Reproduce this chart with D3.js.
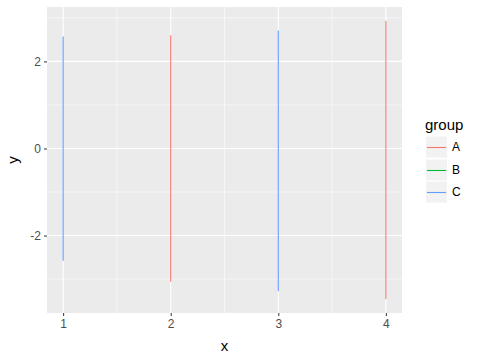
<!DOCTYPE html>
<html>
<head>
<meta charset="utf-8">
<script src="https://cdn.jsdelivr.net/npm/d3@7"></script>
<style>
  body { margin: 0; background: #fff; }
  svg text { font-family: "Liberation Sans", Arial, sans-serif; }
</style>
</head>
<body>
<div id="chart"></div>
<script>
// data
var xs = [1, 2, 3, 4];
var groups = ["C", "A", "C", "A"];
var yLow = [-2.58, -3.06, -3.28, -3.46];
var yHigh = [2.57, 2.60, 2.71, 2.93];
var legendGroups = ["A", "B", "C"];
var groupColors = ["#F8766D", "#00BA38", "#619CFF"];
var xTicks = [1, 2, 3, 4];
var yTicks = [-2, 0, 2];

var width = 477, height = 358;
var panel = {left: 47, top: 7, right: 402, bottom: 313};

var svg = d3.select('#chart').append('svg')
    .attr('width', width)
    .attr('height', height);

// ggplot style 5% expansion
var xr = d3.extent(xs), xPad = (xr[1] - xr[0]) * 0.05;
var yr = [d3.min(yLow), d3.max(yHigh)], yPad = (yr[1] - yr[0]) * 0.05;

var x = d3.scaleLinear()
    .domain([xr[0] - xPad, xr[1] + xPad])
    .range([panel.left, panel.right]);
var y = d3.scaleLinear()
    .domain([yr[0] - yPad, yr[1] + yPad])
    .range([panel.bottom, panel.top]);

function color(g) {
    return groupColors[legendGroups.indexOf(g)];
}

svg.append('rect')
    .attr('x', panel.left).attr('y', panel.top)
    .attr('width', panel.right - panel.left)
    .attr('height', panel.bottom - panel.top)
    .attr('fill', '#EBEBEB');

// minor grid
var xMinor = d3.range(0, xTicks.length - 1).map(function(i) { return (xTicks[i] + xTicks[i + 1]) / 2; });
var yMinor = [-3, -1, 1, 3];
var grid = svg.append('g');
grid.selectAll('.xminor').data(xMinor).enter().append('line')
    .attr('x1', function(d) { return x(d); }).attr('x2', function(d) { return x(d); })
    .attr('y1', panel.top).attr('y2', panel.bottom)
    .attr('stroke', '#fff').attr('stroke-width', 0.55);
grid.selectAll('.yminor').data(yMinor).enter().append('line')
    .attr('y1', function(d) { return y(d); }).attr('y2', function(d) { return y(d); })
    .attr('x1', panel.left).attr('x2', panel.right)
    .attr('stroke', '#fff').attr('stroke-width', 0.55);
grid.selectAll('.xmajor').data(xTicks).enter().append('line')
    .attr('x1', function(d) { return x(d); }).attr('x2', function(d) { return x(d); })
    .attr('y1', panel.top).attr('y2', panel.bottom)
    .attr('stroke', '#fff').attr('stroke-width', 1.1);
grid.selectAll('.ymajor').data(yTicks).enter().append('line')
    .attr('y1', function(d) { return y(d); }).attr('y2', function(d) { return y(d); })
    .attr('x1', panel.left).attr('x2', panel.right)
    .attr('stroke', '#fff').attr('stroke-width', 1.1);

// segments
svg.append('g').selectAll('line.seg').data(xs).enter().append('line')
    .attr('class', 'seg')
    .attr('x1', function(d) { return x(d); })
    .attr('x2', function(d) { return x(d); })
    .attr('y1', function(d, i) { return y(yLow[i]); })
    .attr('y2', function(d, i) { return y(yHigh[i]); })
    .attr('stroke', function(d, i) { return color(groups[i]); })
    .attr('stroke-width', 1.1);

// axes
var xAxis = svg.append('g')
    .attr('transform', 'translate(0,' + panel.bottom + ')')
    .call(d3.axisBottom(x).tickValues(xTicks).tickSize(3).tickPadding(3).tickFormat(d3.format('d')));
var yAxis = svg.append('g')
    .attr('transform', 'translate(' + panel.left + ',0)')
    .call(d3.axisLeft(y).tickValues(yTicks).tickSize(3).tickPadding(3).tickFormat(function(d) { return d < 0 ? '-' + Math.abs(d) : d; }));
[xAxis, yAxis].forEach(function(a) {
    a.select('.domain').remove();
    a.selectAll('.tick line').attr('stroke', '#333').attr('stroke-width', 1);
    a.selectAll('.tick text').attr('fill', '#4D4D4D').style('font-size', '12px');
});

svg.append('text')
    .attr('x', (panel.left + panel.right) / 2).attr('y', 351)
    .attr('text-anchor', 'middle')
    .style('font-size', '15px')
    .text('x');
svg.append('text')
    .attr('transform', 'translate(18,' + (panel.top + panel.bottom) / 2 + ') rotate(-90)')
    .attr('text-anchor', 'middle')
    .style('font-size', '15px')
    .text('y');

// legend
var legend = svg.append('g').attr('transform', 'translate(425,136)');
legend.append('text')
    .attr('x', 0).attr('y', -6)
    .style('font-size', '15px')
    .text('group');
var keys = legend.selectAll('g.key').data(legendGroups).enter().append('g')
    .attr('class', 'key')
    .attr('transform', function(d, i) { return 'translate(0,' + Math.round(i * 22.5) + ')'; });
keys.append('rect')
    .attr('x', 0.5).attr('y', 0)
    .attr('width', 22).attr('height', 22)
    .attr('fill', '#F2F2F2').attr('stroke', '#fff').attr('stroke-width', 1);
keys.append('line')
    .attr('x1', 2).attr('x2', 21)
    .attr('y1', 11.5).attr('y2', 11.5)
    .style('stroke', function(d) { return color(d); })
    .attr('stroke-width', 1.1);
keys.append('text')
    .attr('x', 27).attr('y', 11).attr('dy', '0.35em')
    .style('font-size', '12px')
    .text(function(d) { return d; });
</script>
</body>
</html>
